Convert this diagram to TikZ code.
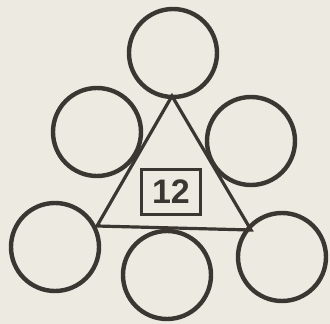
\documentclass[tikz,border=0pt]{standalone}
\usepackage{fontspec}
\setsansfont{Liberation Sans}
\definecolor{paper}{HTML}{EDEBE1}
\definecolor{ink}{HTML}{3B3631}
\tikzset{
    ring/.style={draw=ink, line width=4.4pt, circle, minimum size=88pt, inner sep=0pt},
    edge/.style={draw=ink, line width=3.2pt, line cap=round},
    numbox/.style={draw=ink, line width=3.4pt, minimum width=59pt, minimum height=45pt, inner sep=0pt,
        font=\sffamily\bfseries\fontsize{34}{34}\selectfont, text=ink}
}
\begin{document}
\begin{tikzpicture}[x=1pt,y=-1pt]
        \fill[paper] (0, 0) rectangle (330, 324);
        \useasboundingbox (0, 0) rectangle (330, 324);

        % triangle corners
        \coordinate (top) at (172, 96);
        \coordinate (left) at (97, 226);
        \coordinate (right) at (251, 230);
        \draw[edge] (top) -- (left) -- (right) -- cycle;

        % circles at corners and sides
        \node[ring] (ctop) at (173, 53) {};
        \node[ring] (cleftup) at (97, 132) {};
        \node[ring] (crightup) at (251, 141) {};
        \node[ring] (cleft) at (55, 247) {};
        \node[ring] (cbottom) at (167, 275) {};
        \node[ring] (cright) at (282, 257) {};

        \node[numbox] (sum) at (171, 192) {12};
    \end{tikzpicture}
\end{document}
